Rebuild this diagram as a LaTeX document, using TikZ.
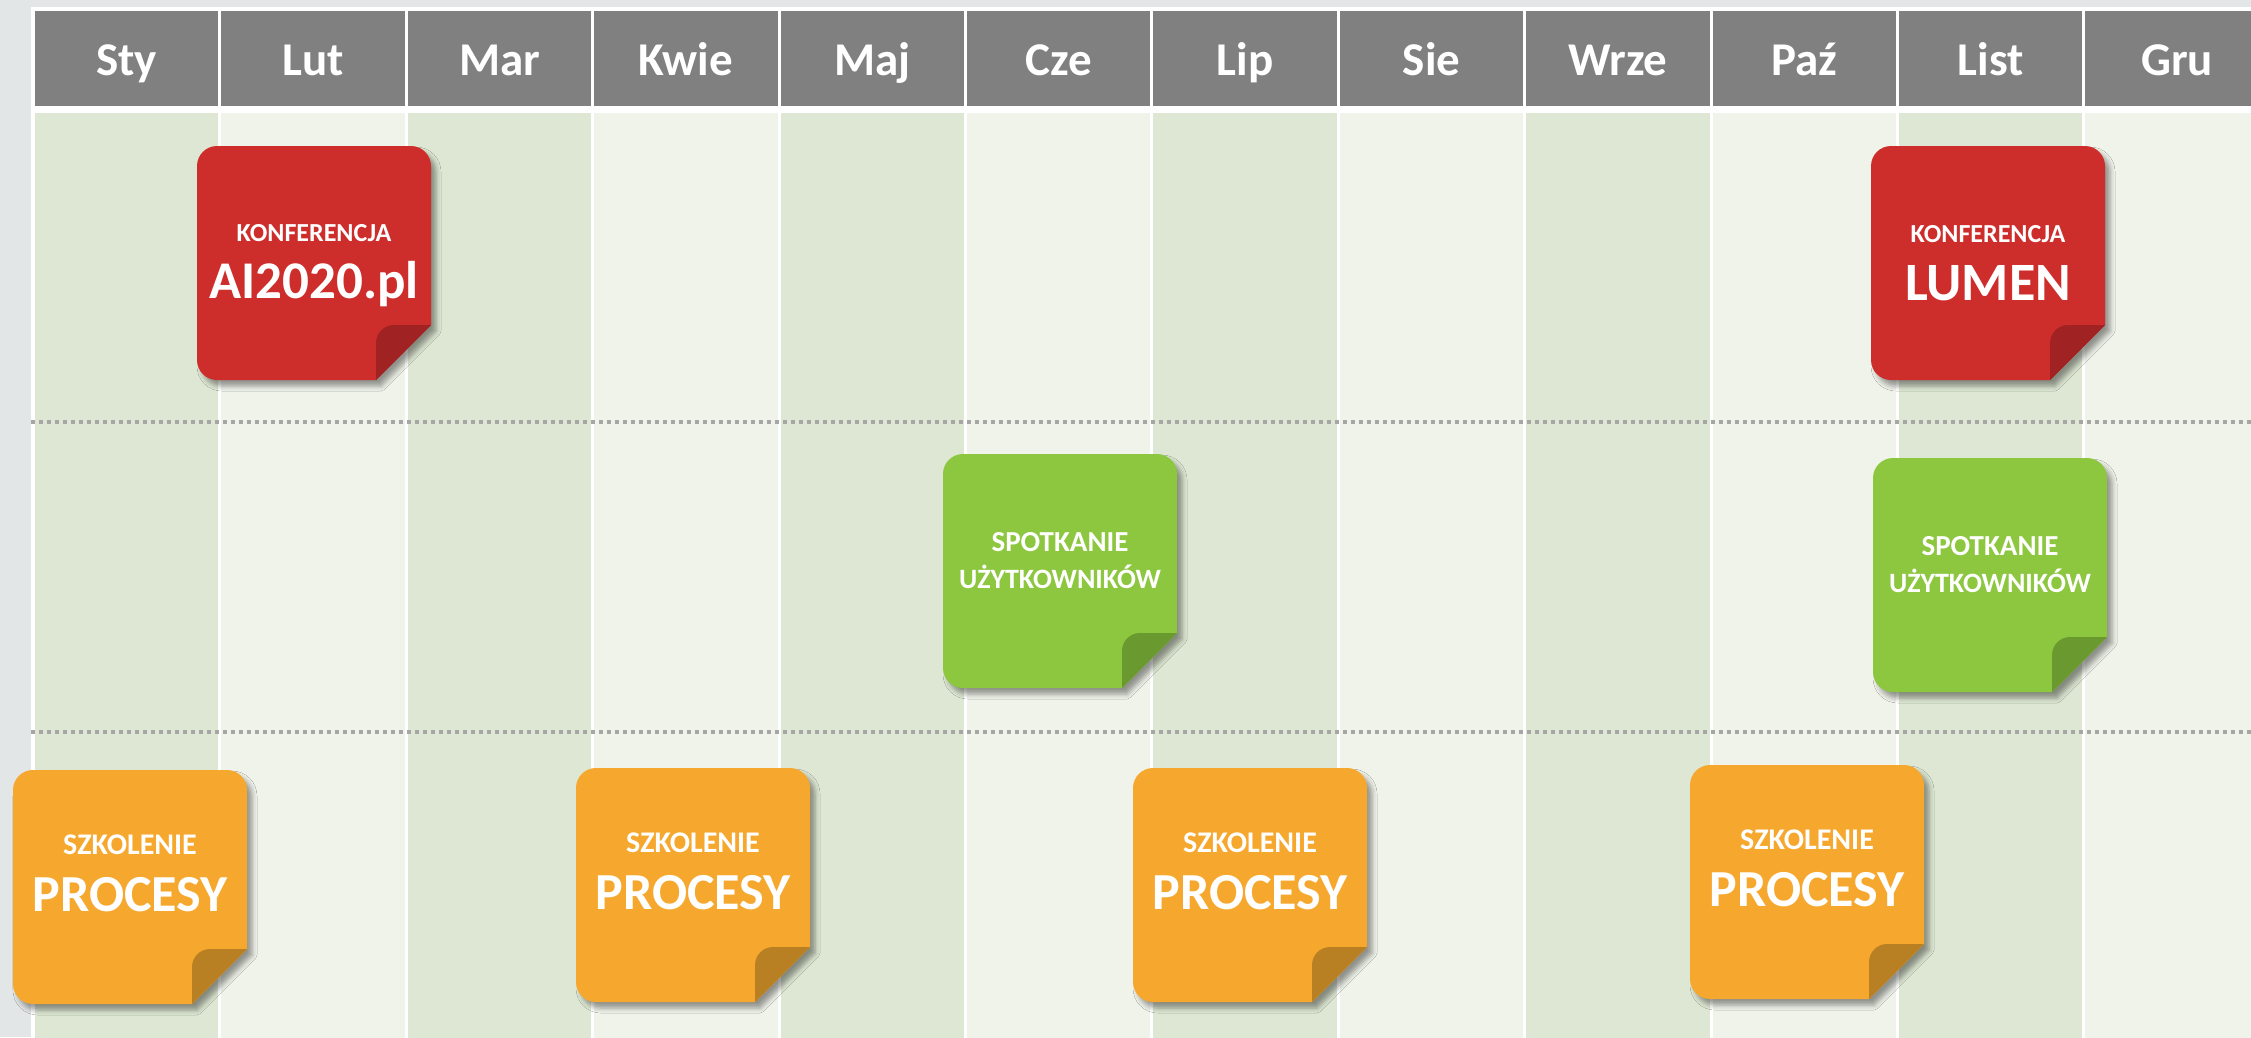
\documentclass[tikz,border=0pt]{standalone}
\usepackage{fontspec}
\setmainfont{Carlito}
\usetikzlibrary{shadows.blur}
\definecolor{bg}{HTML}{E3E6E6}
\definecolor{hdr}{HTML}{808080}
\definecolor{colA}{HTML}{DEE7D3}
\definecolor{colB}{HTML}{F0F3EA}
\definecolor{dots}{HTML}{A6A6A6}
\definecolor{redN}{HTML}{CE2E2B}
\definecolor{redF}{HTML}{A12222}
\definecolor{greenN}{HTML}{8DC63F}
\definecolor{greenF}{HTML}{6A9A2F}
\definecolor{orangeN}{HTML}{F6A82E}
\definecolor{orangeF}{HTML}{B98023}
\tikzset{
  monthtxt/.style={text=white,inner sep=0pt,anchor=base,font=\fontsize{47}{50}\selectfont\bfseries},
  smalltxt/.style={text=white,inner sep=0pt,anchor=base,font=\fontsize{#1}{#1}\selectfont\bfseries},
  bigtxt/.style={text=white,inner sep=0pt,anchor=base,font=\fontsize{#1}{#1}\selectfont\bfseries},
  dotline/.style={draw=dots,line width=4pt,dash pattern=on 4pt off 4pt},
  noteshadow/.style={blur shadow={shadow xshift=5pt,shadow yshift=-6pt,shadow blur radius=5pt,shadow opacity=40}}
}
\newcommand\stickynote[4]{%
  \begin{scope}[shift={(#1,#2)}]
    \fill[#3,noteshadow] (0,20) arc[start angle=180,end angle=270,radius=20] -- (214,0)
      arc[start angle=270,end angle=360,radius=20] -- (234,179) -- (179,234) -- (20,234)
      arc[start angle=90,end angle=180,radius=20] -- cycle;
    \fill[#4] (234,179) -- (197,179) arc[start angle=270,end angle=180,radius=18] -- (179,234) -- cycle;
  \end{scope}}
\begin{document}
\begin{tikzpicture}[x=1pt,y=-1pt]
\useasboundingbox (0,0) rectangle (2251,1037);
\fill[bg] (0,0) rectangle (2251,1037);
\fill[white] (31,7) rectangle (2251,1037);
% columns
\foreach \i/\m in {0/Sty,1/Lut,2/Mar,3/Kwie,4/Maj,5/Cze,6/Lip,7/Sie,8/Wrze,9/Paź,10/List,11/Gru}{
  \pgfmathsetmacro\xl{35+186.4*\i}
  \pgfmathsetmacro\xc{\xl+91.7}
  \fill[hdr] (\xl,11) rectangle ++(183.4,95);
  \node[monthtxt] (m\i) at (\xc,75) {\m};
}
\foreach \i in {0,2,4,6,8,10}{
  \pgfmathsetmacro\xl{35+186.4*\i}
  \fill[colA] (\xl,113) rectangle ++(183.4,930);
}
\foreach \i in {1,3,5,7,9,11}{
  \pgfmathsetmacro\xl{35+186.4*\i}
  \fill[colB] (\xl,113) rectangle ++(183.4,930);
}
% dotted separators
\coordinate (d1s) at (31,422);
\coordinate (d1e) at (2251,422);
\coordinate (d2s) at (31,732);
\coordinate (d2e) at (2251,732);
\draw[dotline] (d1s) -- (d1e);
\draw[dotline] (d2s) -- (d2e);
% red notes
\stickynote{197}{146}{redN}{redF}
\node[smalltxt=26] (r1a) at (314,241) {KONFERENCJA};
\node[bigtxt=53] (r1b) at (314,298) {AI2020.pl};
\stickynote{1871}{146}{redN}{redF}
\node[smalltxt=26] (r2a) at (1988,242) {KONFERENCJA};
\node[bigtxt=54] (r2b) at (1988,300) {LUMEN};
% green notes
\stickynote{943}{454}{greenN}{greenF}
\node[smalltxt=29] (g1a) at (1060,551) {SPOTKANIE};
\node[smalltxt=28] (g1b) at (1060,588) {UŻYTKOWNIKÓW};
\stickynote{1873}{458}{greenN}{greenF}
\node[smalltxt=29] (g2a) at (1990,555) {SPOTKANIE};
\node[smalltxt=28] (g2b) at (1990,592) {UŻYTKOWNIKÓW};
% orange notes
\stickynote{13}{770}{orangeN}{orangeF}
\node[smalltxt=30] (o1a) at (130,854) {SZKOLENIE};
\node[bigtxt=52] (o1b) at (130,911) {PROCESY};
\stickynote{576}{768}{orangeN}{orangeF}
\node[smalltxt=30] (o2a) at (693,852) {SZKOLENIE};
\node[bigtxt=52] (o2b) at (693,909) {PROCESY};
\stickynote{1133}{768}{orangeN}{orangeF}
\node[smalltxt=30] (o3a) at (1250,852) {SZKOLENIE};
\node[bigtxt=52] (o3b) at (1250,909) {PROCESY};
\stickynote{1690}{765}{orangeN}{orangeF}
\node[smalltxt=30] (o4a) at (1807,849) {SZKOLENIE};
\node[bigtxt=52] (o4b) at (1807,906) {PROCESY};
\end{tikzpicture}
\end{document}
